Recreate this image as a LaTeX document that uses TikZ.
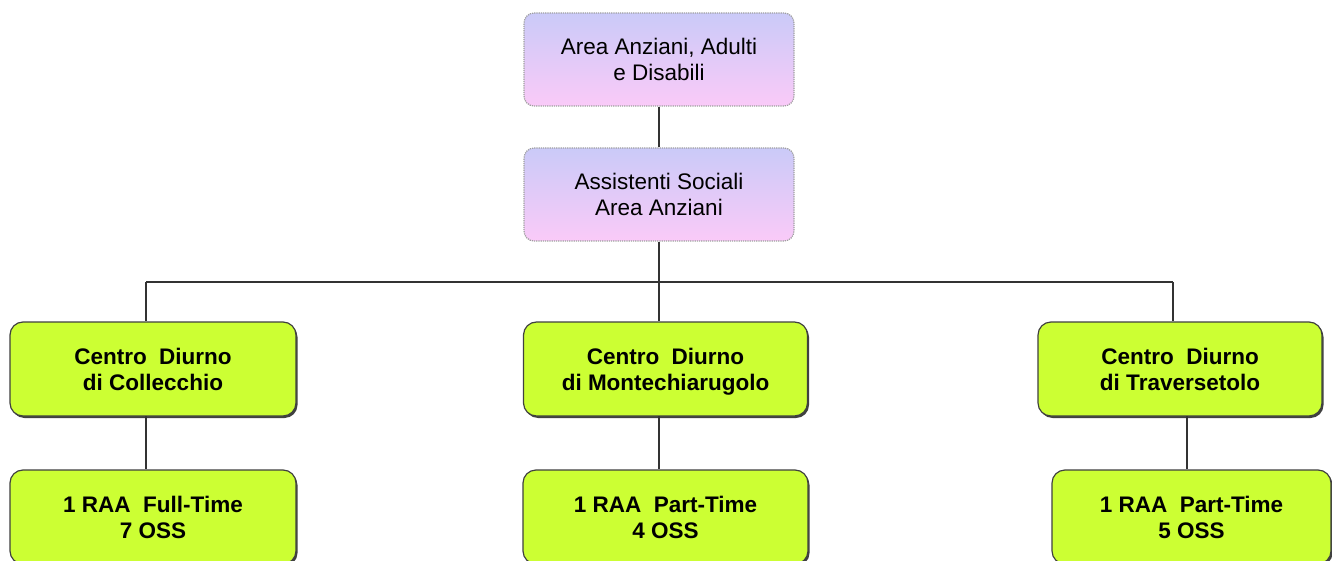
\documentclass[tikz,border=0pt]{standalone}
\usepackage{fontspec}
\setmainfont{Liberation Sans}
\usetikzlibrary{shadows}
\definecolor{lime}{HTML}{CCFF33}
\definecolor{lav}{HTML}{CACAF8}
\definecolor{pinkish}{HTML}{FACAF8}
\definecolor{conn}{HTML}{333333}
\newcommand{\tst}{\rule{0pt}{24pt}}
\tikzset{
  purplebox/.style={draw=gray!75, densely dotted, line width=1.2pt, rounded corners=10pt,
    top color=lav, bottom color=pinkish, align=center, minimum width=270pt, minimum height=93pt,
    font=\fontsize{22.5}{26}\selectfont, inner sep=0pt},
  greenbox/.style={draw=black!75, line width=1.2pt, rounded corners=13pt, fill=lime,
    drop shadow={shadow xshift=1.5pt, shadow yshift=-2pt, fill=black!75, opacity=1},
    align=center, minimum height=94pt, inner sep=0pt,
    font=\fontsize{22.5}{26}\bfseries\selectfont},
  link/.style={draw=conn, line width=2pt},
}
\begin{document}
\begin{tikzpicture}[x=1pt,y=-1pt]
\useasboundingbox (0,0) rectangle (1332,561);
\clip (0,0) rectangle (1332,561);
\fill[white] (0,0) rectangle (1332,561);
\coordinate (jL) at (146,282);
\coordinate (jM) at (659,282);
\coordinate (jR) at (1173,282);
\draw[link] (jL) -- (jR);
\node[purplebox] (top) at (659,59.5) {\tst Area Anziani, Adulti\\\strut e Disabili};
\node[purplebox] (soc) at (659,194.5) {\tst Assistenti Sociali\\\strut Area Anziani};
\node[greenbox, minimum width=286pt] (c1) at (153,369) {\tst Centro\ \ Diurno\\\strut di Collecchio};
\node[greenbox, minimum width=284pt] (c2) at (665.5,369) {\tst Centro\ \ Diurno\\\strut di Montechiarugolo};
\node[greenbox, minimum width=284pt] (c3) at (1180,369) {\tst Centro\ \ Diurno\\\strut di Traversetolo};
\node[greenbox, minimum width=286pt] (s1) at (153,517) {\tst 1 RAA\ \ Full-Time\\\strut 7 OSS};
\node[greenbox, minimum width=285pt] (s2) at (665.5,517) {\tst 1 RAA\ \ Part-Time\\\strut 4 OSS};
\node[greenbox, minimum width=279pt] (s3) at (1191.5,517) {\tst 1 RAA\ \ Part-Time\\\strut 5 OSS};
\draw[link] (top.south) -- (soc.north);
\draw[link] (soc.south) -- (jM);
\draw[link] (jL) -- (jL |- c1.north);
\draw[link] (jM) -- (jM |- c2.north);
\draw[link] (jR) -- (jR |- c3.north);
\draw[link] (146,416) coordinate (a1) -- (a1 |- s1.north);
\draw[link] (659,416) coordinate (a2) -- (a2 |- s2.north);
\draw[link] (1187,416) coordinate (a3) -- (a3 |- s3.north);
\end{tikzpicture}
\end{document}
